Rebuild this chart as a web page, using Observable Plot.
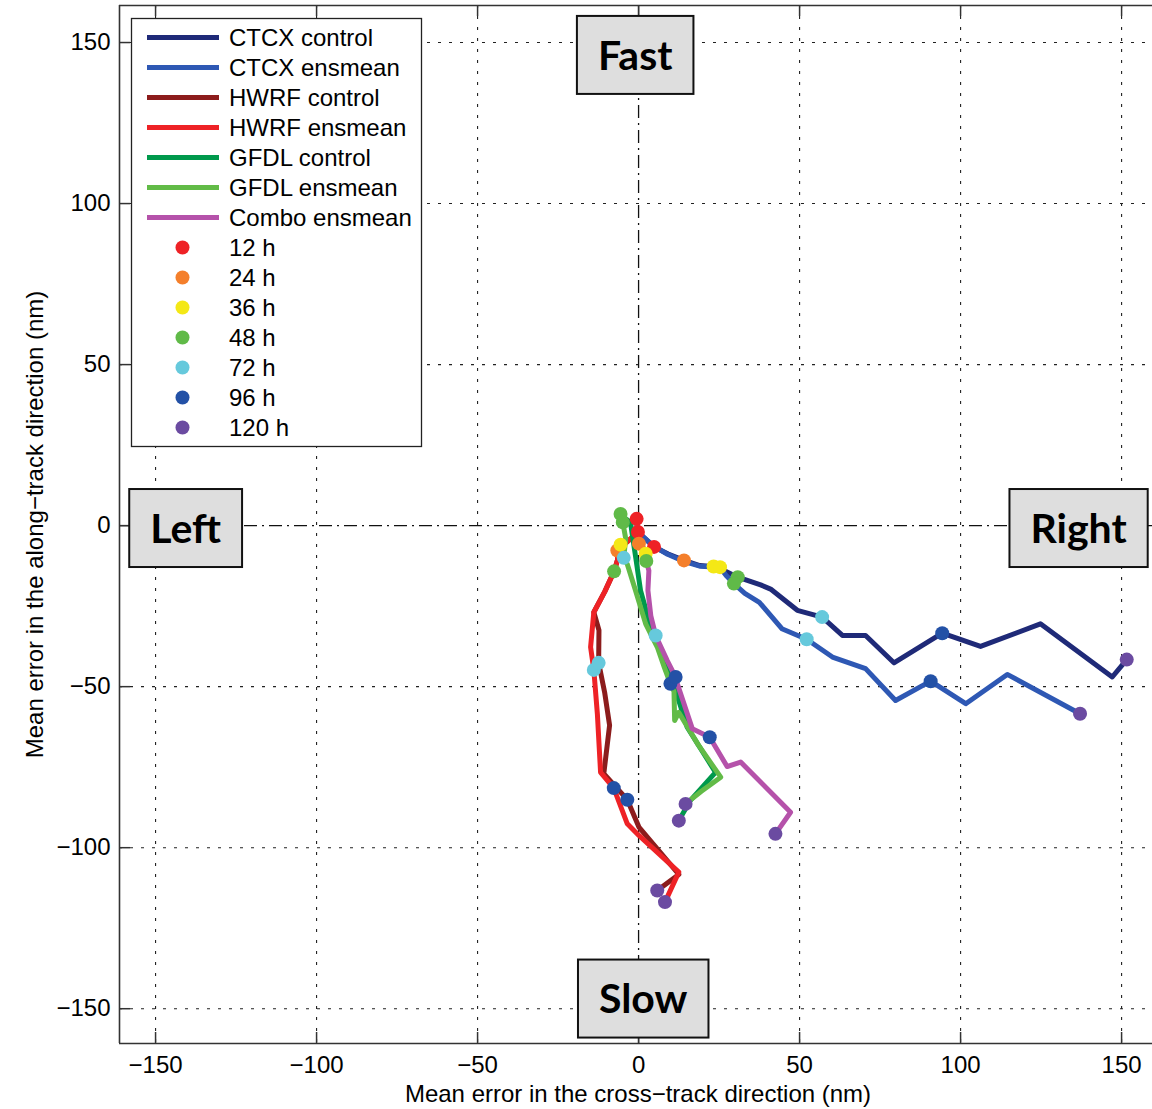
<!DOCTYPE html>
<html><head><meta charset="utf-8">
<script src="https://cdn.jsdelivr.net/npm/d3@7"></script>
<script src="https://cdn.jsdelivr.net/npm/@observablehq/plot@0.6"></script>
<style>
html,body{margin:0;padding:0;background:#fff;overflow:hidden;}
svg{display:block;}
</style></head><body><div id="chart"></div>
<script>
// ---------- data ----------
const xTicks = [-150, -100, -50, 0, 50, 100, 150];
const yTicks = [-150, -100, -50, 0, 50, 100, 150];
const xTitle = "Mean error in the cross\u2212track direction (nm)";
const yTitle = "Mean error in the along\u2212track direction (nm)";

const seriesNames = ["CTCX control", "CTCX ensmean", "HWRF control", "HWRF ensmean", "GFDL control", "GFDL ensmean", "Combo ensmean"];
const seriesColors = ["#1f2a78", "#2e58b4", "#8c1c1c", "#ee2226", "#00994c", "#62bb47", "#b552aa"];

const ctcxControl = [[-0.6,2.1],[-0.2,-2.0],[4.8,-6.6],[9.2,-8.8],[14.1,-10.8],[19.0,-12.4],[24.0,-12.8],[27.0,-14.2],[30.8,-16.0],[37.9,-18.4],[41.0,-19.7],[49.3,-26.3],[57.0,-28.4],[63.3,-34.1],[70.5,-34.1],[79.3,-42.6],[94.3,-33.4],[106.2,-37.5],[124.8,-30.5],[147.1,-47.0],[151.6,-41.6]];
const ctcxEnsmean = [[-0.6,2.1],[-0.2,-2.0],[4.5,-6.2],[9.0,-8.9],[14.3,-11.2],[19.0,-12.6],[25.3,-12.9],[27.2,-15.5],[29.6,-18.0],[33.0,-21.0],[37.5,-23.8],[44.5,-32.0],[52.2,-35.3],[60.2,-40.8],[70.5,-44.4],[79.8,-54.3],[90.7,-48.3],[101.6,-55.3],[114.5,-46.2],[137.1,-58.4]];
const hwrfControl = [[-0.6,2.1],[-0.2,-2.0],[-3.5,-5.0],[-6.6,-7.7],[-6.5,-10.5],[-7.6,-14.2],[-10.5,-20.5],[-13.9,-26.9],[-12.3,-32.5],[-12.4,-42.6],[-10.5,-52.0],[-9.0,-62.0],[-10.8,-77.0],[-3.5,-85.1],[0.1,-93.6],[12.5,-108.3],[5.8,-113.3]];
const hwrfEnsmean = [[-0.6,2.1],[-0.2,-2.0],[-3.5,-5.0],[-6.6,-7.7],[-6.5,-10.5],[-7.6,-14.2],[-10.5,-20.5],[-13.9,-26.9],[-14.9,-37.7],[-13.9,-44.8],[-12.8,-58.4],[-11.8,-76.6],[-7.7,-81.5],[-3.5,-92.6],[0.1,-96.2],[12.5,-107.6],[8.2,-116.9]];
const gfdlControl = [[-4.5,2.5],[-2.5,1.0],[-2.0,-2.5],[-0.9,-9.8],[0.6,-20.1],[3.5,-30.5],[8.9,-45.0],[11.5,-51.2],[15.1,-62.6],[23.9,-76.6],[16.1,-85.3],[12.5,-91.6]];
const gfdlEnsmean = [[-5.6,3.0],[-4.9,1.0],[-4.0,-4.0],[-4.6,-10.0],[-3.5,-12.0],[-1.0,-20.0],[2.2,-30.5],[5.8,-37.7],[8.0,-44.0],[9.9,-49.1],[11.0,-51.5],[11.2,-60.5],[12.5,-58.0],[18.5,-68.0],[25.5,-78.1],[19.5,-82.5],[14.6,-86.4]];
const comboEnsmean = [[-0.5,0.5],[0.1,-5.6],[1.6,-7.0],[2.2,-8.7],[2.4,-11.0],[3.2,-14.0],[2.9,-20.1],[3.8,-28.0],[5.3,-34.1],[8.9,-41.9],[11.0,-46.0],[16.7,-63.1],[22.1,-65.7],[27.5,-74.8],[31.7,-73.4],[47.2,-89.0],[42.5,-95.7]];

const leadLabels = ["12 h", "24 h", "36 h", "48 h", "72 h", "96 h", "120 h"];
const leadColors = ["#ee2226", "#f47f2b", "#f4e816", "#60ba48", "#66c9dc", "#2351a6", "#6b4ba1"];
const dots12h = [[-0.6,2.1],[-0.2,-2.0],[4.8,-6.6]];
const dots24h = [[0.1,-5.6],[-6.6,-7.7],[14.1,-10.8]];
const dots36h = [[-5.6,-5.9],[2.2,-8.7],[23.3,-12.7],[25.3,-12.9]];
const dots48h = [[-5.6,3.6],[-4.9,1.0],[2.4,-11.0],[-7.6,-14.2],[30.8,-16.0],[29.6,-18.0]];
const dots72h = [[-4.6,-10.0],[5.3,-34.1],[-13.9,-44.8],[-12.4,-42.6],[57.0,-28.4],[52.2,-35.3]];
const dots96h = [[-7.7,-81.5],[-3.5,-85.1],[9.9,-49.1],[11.5,-47.0],[22.1,-65.7],[94.3,-33.4],[90.7,-48.3]];
const dots120h = [[8.2,-116.9],[5.8,-113.3],[14.6,-86.4],[12.5,-91.6],[42.5,-95.7],[151.6,-41.6],[137.1,-58.4]];

const annLabels = ["Fast", "Left", "Right", "Slow"];

// ---------- drawing ----------
const seriesData = [ctcxControl, ctcxEnsmean, hwrfControl, hwrfEnsmean, gfdlControl, gfdlEnsmean, comboEnsmean];
const dotSets = [dots12h, dots24h, dots36h, dots48h, dots72h, dots96h, dots120h];

const W = 1152, H = 1109, mL = 119, mR = 0, mT = 5, mB = 66;
const plotW = W - mL - mR, plotH = H - mT - mB;
const xDom = [-161.2, 159.6], yDom = [-160.8, 161.5];
const fmt = d => String(d).replace("-", "\u2212");
const font = "'Liberation Sans', Arial, Helvetica, sans-serif";

const svg = Plot.plot({
  width: W, height: H,
  marginLeft: mL, marginRight: mR, marginTop: mT, marginBottom: mB,
  x: {domain: xDom, axis: null},
  y: {domain: yDom, axis: null},
  style: {fontFamily: font, background: "#fff", color: "#000"},
  marks: [
    Plot.ruleX(xTicks.filter(d => d !== 0), {stroke: "#222", strokeWidth: 1.1, strokeDasharray: "3,8"}),
    Plot.ruleY(yTicks.filter(d => d !== 0), {stroke: "#222", strokeWidth: 1.1, strokeDasharray: "3,8"}),
    Plot.ruleX([0], {stroke: "#111", strokeWidth: 1.3, strokeDasharray: "13,5,2,5"}),
    Plot.ruleY([0], {stroke: "#111", strokeWidth: 1.3, strokeDasharray: "13,5,2,5"}),
    // spines
    Plot.ruleX([xDom[0]], {stroke: "#333", strokeWidth: 1.6}),
    Plot.ruleY([yDom[0], yDom[1]], {stroke: "#333", strokeWidth: 1.6}),
    // inward ticks
    Plot.ruleX(xTicks, {insetTop: plotH - 11, stroke: "#333", strokeWidth: 1.5}),
    Plot.ruleX(xTicks, {insetBottom: plotH - 11, stroke: "#333", strokeWidth: 1.5}),
    Plot.ruleY(yTicks, {insetRight: plotW - 11, stroke: "#333", strokeWidth: 1.5}),
    // tick labels
    Plot.text(xTicks, {x: d => d, text: fmt, frameAnchor: "bottom", dy: 22, lineAnchor: "middle", fontSize: 24, fill: "#000"}),
    Plot.text(yTicks, {y: d => d, text: fmt, frameAnchor: "left", dx: -9, textAnchor: "end", lineAnchor: "middle", fontSize: 24, fill: "#000"}),
    // axis titles
    Plot.text([xTitle], {frameAnchor: "bottom", dy: 51, dx: 2, textAnchor: "middle", lineAnchor: "middle", fontSize: 24, fill: "#000"}),
    Plot.text([yTitle], {frameAnchor: "left", dx: -84, rotate: -90, textAnchor: "middle", lineAnchor: "middle", fontSize: 24, fill: "#000"}),
    // tracks
    ...seriesData.map((arr, i) => Plot.line(arr, {x: d => d[0], y: d => d[1], stroke: seriesColors[i], strokeWidth: 5, strokeLinejoin: "round", strokeLinecap: "round"})),
    // lead-time markers
    ...dotSets.map((arr, i) => Plot.dot(arr, {x: d => d[0], y: d => d[1], r: 7, fill: leadColors[i], stroke: "none"}))
  ]
});
document.getElementById("chart").appendChild(svg);

const root = d3.select(svg);
const xs = svg.scale("x"), ys = svg.scale("y");

// annotation boxes (placed in data coordinates)
const annPos = [[-0.9, 146], [-140.5, -0.9], [136.8, -0.9], [1.6, -147]];
annLabels.forEach((lab, i) => {
  const cx = xs.apply(annPos[i][0]), cy = ys.apply(annPos[i][1]);
  const g = root.append("g");
  const r = g.append("rect");
  const t = g.append("text")
    .attr("x", cx).attr("y", cy).attr("dy", "0.36em")
    .attr("text-anchor", "middle")
    .style("font-family", "Lato, 'Open Sans', sans-serif")
    .style("font-weight", "700").style("font-size", "41px")
    .attr("fill", "#000").text(lab);
  const w = t.node().getComputedTextLength();
  r.attr("x", cx - w / 2 - 21).attr("y", cy - 39)
   .attr("width", w + 42).attr("height", 78)
   .attr("fill", "#dedede").attr("stroke", "#111").attr("stroke-width", 2);
});

// legend
const lg = root.append("g").style("font-family", font).style("font-size", "24px").attr("text-anchor", "start");
lg.append("rect").attr("x", 131.5).attr("y", 18.5).attr("width", 290).attr("height", 428)
  .attr("fill", "#fff").attr("stroke", "#222").attr("stroke-width", 1.3);
const rowY = k => 37.5 + k * 30;
seriesNames.forEach((name, i) => {
  lg.append("line").attr("x1", 147).attr("x2", 219).attr("y1", rowY(i)).attr("y2", rowY(i))
    .attr("stroke", seriesColors[i]).attr("stroke-width", 5);
  lg.append("text").attr("x", 229).attr("y", rowY(i)).attr("dy", "0.35em").attr("text-anchor", "start").attr("fill", "#000").text(name);
});
leadLabels.forEach((lab, j) => {
  const k = seriesNames.length + j;
  lg.append("circle").attr("cx", 182.5).attr("cy", rowY(k)).attr("r", 7).attr("fill", leadColors[j]);
  lg.append("text").attr("x", 229).attr("y", rowY(k)).attr("dy", "0.35em").attr("text-anchor", "start").attr("fill", "#000").text(lab);
});
</script>
</body></html>
